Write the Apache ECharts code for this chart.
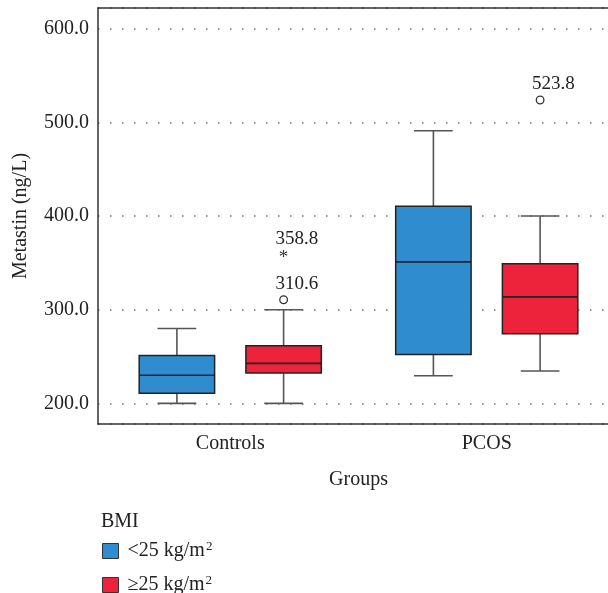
<!DOCTYPE html>
<html>
<head>
<meta charset="utf-8">
<script src="https://cdn.jsdelivr.net/npm/echarts@6/dist/echarts.min.js"></script>
<style>
  html, body { margin: 0; padding: 0; background: #fff; }
  #main { width: 608px; height: 593px; }
</style>
</head>
<body>
<div id="main"></div>
<script>
// groups on the x axis
const groups = ['Controls', 'PCOS'];
// box stats per group: [low whisker, Q1, median, Q3, high whisker]
const bmiLow = [[200, 210.7, 230, 251, 280], [229.5, 252.3, 351, 410.4, 491]];
const bmiHigh = [[200, 232.3, 242.7, 261.4, 300], [234.5, 274.2, 313.7, 349, 400]];
// outliers of the >=25 group: [group index, value, marker]
const outliersHigh = [[0, 310.6, 'o'], [0, 358.8, '*'], [1, 523.8, 'o']];
const outliersLow = [];
const seriesNames = ['<25 kg/m2', '≥25 kg/m2'];
const colors = ['#2f8dcf', '#ed233b'];
const FONT = '"Liberation Serif", "DejaVu Serif", serif';
const SHIFT = 4; // groups sit slightly right of band centre in the original

const chart = echarts.init(document.getElementById('main'));

function boxRenderer(side) {
  return function (params, api) {
    const g = api.value(0);
    const band = api.size([1, 0])[0];
    const cx = api.coord([g, 0])[0] + side * band * 0.208 + SHIFT;
    const w = band * 0.294;
    const cap = w / 2;
    const y = i => api.coord([g, api.value(i)])[1];
    const lo = y(1), q1 = y(2), med = y(3), q3 = y(4), hi = y(5);
    const fill = api.visual('color');
    const wl = { stroke: '#555', lineWidth: 1.6 };
    return {
      type: 'group',
      children: [
        { type: 'line', shape: { x1: cx, y1: hi, x2: cx, y2: q3 }, style: wl },
        { type: 'line', shape: { x1: cx, y1: q1, x2: cx, y2: lo }, style: wl },
        { type: 'line', shape: { x1: cx - cap / 2 - 0.5, y1: hi, x2: cx + cap / 2 + 0.5, y2: hi }, style: wl },
        { type: 'line', shape: { x1: cx - cap / 2 - 0.5, y1: lo, x2: cx + cap / 2 + 0.5, y2: lo }, style: wl },
        { type: 'rect', shape: { x: cx - w / 2, y: q3, width: w, height: q1 - q3 },
          style: { fill: fill, stroke: '#222', lineWidth: 1.5 } },
        { type: 'line', shape: { x1: cx - w / 2, y1: med, x2: cx + w / 2, y2: med },
          style: { stroke: '#222', lineWidth: 1.6 } }
      ]
    };
  };
}

const outliersAll = [outliersLow, outliersHigh];

function outlierRenderer(side) {
  return function (params, api) {
    const g = api.value(0);
    const v = api.value(1);
    const band = api.size([1, 0])[0];
    const p = api.coord([g, v]);
    const cx = p[0] + side * band * 0.208 + SHIFT;
    const mark = outliersAll[side < 0 ? 0 : 1][params.dataIndex][2];
    const children = [];
    if (mark === 'o') {
      children.push({ type: 'circle', shape: { cx: cx, cy: p[1], r: 3.8 },
        style: { fill: '#fff', stroke: '#333', lineWidth: 1.3 } });
    } else {
      children.push({ type: 'text', x: cx, y: p[1] + 3,
        style: { text: '*', font: '19px ' + FONT, fill: '#333', align: 'center', verticalAlign: 'middle' } });
    }
    children.push({ type: 'text', x: cx - 8, y: p[1] - 16,
      style: { text: v.toFixed(1), font: '19px ' + FONT, fill: '#222', align: 'left', verticalAlign: 'middle' } });
    return { type: 'group', children: children };
  };
}

function legendFor(i, top) {
  return {
    orient: 'vertical', left: 97, top: top,
    itemWidth: 16, itemHeight: 15,
    icon: 'rect',
    itemStyle: { borderColor: '#333', borderWidth: 1 },
    data: [seriesNames[i]],
    formatter: n => n.slice(0, -1) + '{sup|2}',
    textStyle: {
      fontFamily: FONT, fontSize: 20, color: '#222', padding: [0, 0, 0, 4],
      rich: { sup: { fontFamily: FONT, fontSize: 13, verticalAlign: 'top', padding: [0, 0, 9, 1], color: '#222' } }
    }
  };
}

const option = {
  animation: false,
  textStyle: { fontFamily: FONT },
  title: {
    text: 'BMI', left: 96, top: 507,
    textStyle: { fontFamily: FONT, fontSize: 20, fontWeight: 'normal', color: '#222' }
  },
  legend: [legendFor(0, 535), legendFor(1, 569)],
  grid: {
    left: 98, top: 8, width: 513, height: 416,
    outerBoundsMode: 'none', containLabel: false, show: false
  },
  xAxis: [
    {
      type: 'category', data: groups, boundaryGap: true,
      name: 'Groups', nameLocation: 'middle', nameGap: 46,
      nameTextStyle: { fontFamily: FONT, fontSize: 20, color: '#222', padding: [0, 0, 0, 8] },
      axisLine: { lineStyle: { color: '#333', width: 1.5 } },
      axisTick: { show: false },
      axisLabel: { fontFamily: FONT, fontSize: 20, color: '#222', margin: 10,
        formatter: v => v, padding: [0, 0, 0, 8] },
      splitLine: { show: false }
    },
    {
      // top frame line
      type: 'category', data: groups, position: 'top',
      axisLine: { lineStyle: { color: '#333', width: 1.5 } },
      axisTick: { show: false }, axisLabel: { show: false }, splitLine: { show: false }
    }
  ],
  yAxis: {
    type: 'value', min: 178, max: 622,
    name: 'Metastin (ng/L)', nameLocation: 'middle', nameGap: 67,
    nameTextStyle: { fontFamily: FONT, fontSize: 20, color: '#222' },
    axisLine: { show: true, lineStyle: { color: '#333', width: 1.5 } },
    axisTick: { show: false },
    axisLabel: {
      fontFamily: FONT, fontSize: 20, color: '#222', margin: 9,
      showMinLabel: false, showMaxLabel: false,
      formatter: v => (v % 100 === 0 ? v.toFixed(1) : '')
    },
    splitLine: { show: true, lineStyle: { color: '#777', width: 1.5, type: [1.5, 10.5] } }
  },
  series: [
    {
      name: seriesNames[0], type: 'custom', itemStyle: { color: colors[0] },
      renderItem: boxRenderer(-1),
      encode: { x: 0, y: [1, 2, 3, 4, 5] },
      data: bmiLow.map((b, i) => [i].concat(b)), z: 3
    },
    {
      name: seriesNames[1], type: 'custom', itemStyle: { color: colors[1] },
      renderItem: boxRenderer(1),
      encode: { x: 0, y: [1, 2, 3, 4, 5] },
      data: bmiHigh.map((b, i) => [i].concat(b)), z: 3
    },
    {
      name: 'outliersHigh', type: 'custom',
      renderItem: outlierRenderer(1),
      encode: { x: 0, y: 1 },
      data: outliersHigh.map(o => [o[0], o[1]]), z: 4
    }
  ]
};

chart.setOption(option);
</script>
</body>
</html>
